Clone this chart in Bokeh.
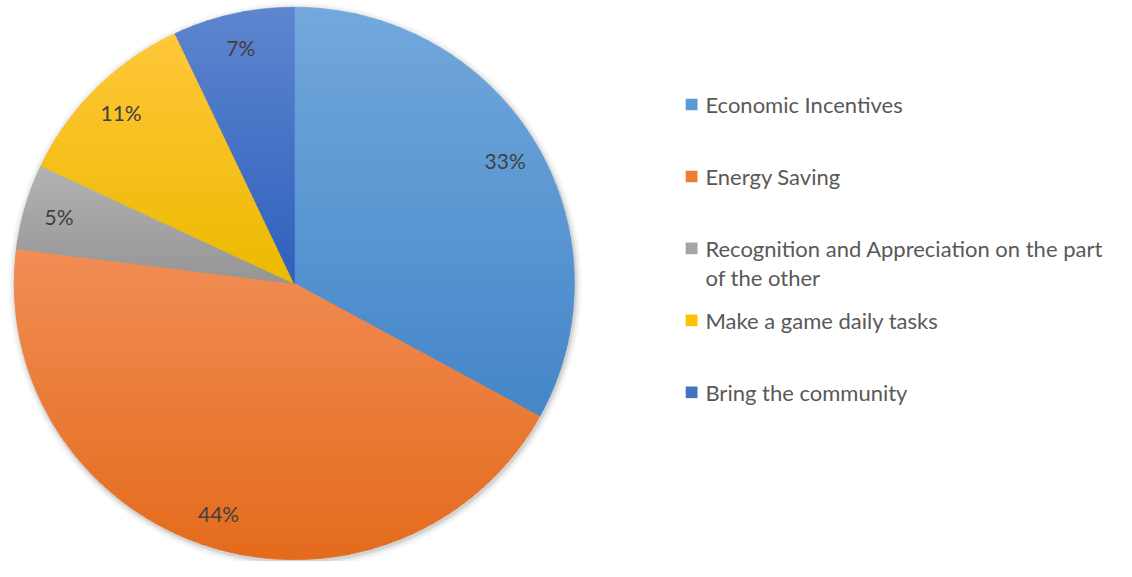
import math
import textwrap
import numpy as np
from bokeh.plotting import figure
from bokeh.models import Range1d, ColumnDataSource
from bokeh.core.properties import value
from bokeh.embed import file_html
from bokeh.resources import INLINE

# ---- data ----
categories = ["Economic Incentives", "Energy Saving",
              "Recognition and Appreciation on the part of the other",
              "Make a game daily tasks", "Bring the community"]
shares = [33, 44, 5, 11, 7]

# ---- style ----
colors = ["#5b9bd5", "#ed7d31", "#a5a5a5", "#ffc000", "#4472c4"]
top_colors = ["#72a8dc", "#f18d55", "#b3b3b3", "#ffc73a", "#5e86cf"]
bot_colors = ["#4486c8", "#e46b1c", "#959595", "#ecba00", "#2f60bd"]

# layout in reference-page pixel units (1132 x 577)
W, H = 1116, 561
CX, CY, R = 298, 291, 284


def sy(Y):
    return 577 - Y


def hex2rgb(h):
    h = h.lstrip("#")
    return np.array([int(h[i:i + 2], 16) for i in (0, 2, 4)], dtype=float)


def rgb2hex(c):
    c = np.clip(np.round(c), 0, 255).astype(int)
    return "#%02x%02x%02x" % tuple(c)


def clip_half(poly, yv, keep_above):
    out = []
    n = len(poly)
    for i in range(n):
        cur = poly[i]
        prv = poly[i - 1]
        cin = cur[1] >= yv if keep_above else cur[1] <= yv
        pin = prv[1] >= yv if keep_above else prv[1] <= yv
        if cin:
            if not pin:
                t = (yv - prv[1]) / (cur[1] - prv[1])
                out.append((prv[0] + t * (cur[0] - prv[0]), yv))
            out.append(cur)
        elif pin:
            t = (yv - prv[1]) / (cur[1] - prv[1])
            out.append((prv[0] + t * (cur[0] - prv[0]), yv))
    return out


p = figure(width=W, height=H, output_backend="svg", toolbar_location=None,
           x_range=Range1d(0, 1132), y_range=Range1d(0, 577), min_border=0)
p.axis.visible = False
p.grid.visible = False
p.outline_line_color = None
p.background_fill_color = "white"
p.border_fill_color = "white"

# soft shadow
for k, a in [(7, 0.025), (5, 0.035), (3, 0.05), (1.5, 0.07)]:
    p.ellipse(x=[CX + 1], y=[sy(CY + 2)], width=2 * (R + k), height=2 * (R + k),
              fill_color="#000000", fill_alpha=a, line_color=None)

total = sum(shares)
lx, ly, labels = [], [], []
xs_all, ys_all, fill_all = [], [], []
acc = 0.0
NSTRIP = 60
for i, s in enumerate(shares):
    a0 = math.pi / 2 - 2 * math.pi * acc / total
    a1 = math.pi / 2 - 2 * math.pi * (acc + s) / total
    mid = (a0 + a1) / 2
    lx.append(CX + 0.875 * R * math.cos(mid))
    ly.append(sy(CY) + 0.875 * R * math.sin(mid))
    labels.append(f"{s}%")
    acc += s
    # sector polygon
    th = np.linspace(a0, a1, 240)
    poly = [(CX, sy(CY))] + [(CX + R * math.cos(t), sy(CY) + R * math.sin(t)) for t in th]
    ymin = min(q[1] for q in poly)
    ymax = max(q[1] for q in poly)
    ct, cb = hex2rgb(top_colors[i]), hex2rgb(bot_colors[i])
    edges = np.linspace(ymin, ymax, NSTRIP + 1)
    for j in range(NSTRIP):
        lo, hi = edges[j], edges[j + 1]
        piece = clip_half(clip_half(poly, lo - 0.3, True), hi + 0.3, False)
        if len(piece) < 3:
            continue
        f = (j + 0.5) / NSTRIP  # 0 = bottom, 1 = top
        c = cb + (ct - cb) * f
        xs_all.append([q[0] for q in piece])
        ys_all.append([q[1] for q in piece])
        fill_all.append(rgb2hex(c))

p.patches(xs="xs", ys="ys", fill_color="c", line_color="c", line_width=0.8,
          source=ColumnDataSource(dict(xs=xs_all, ys=ys_all, c=fill_all)))

p.text(x=lx, y=ly, text=labels, text_align="center", text_baseline="middle",
       text_font=value("Lato"), text_font_size="21px", text_color="#404040")

# legend
rows_y = [107 + 74 * k for k in range(len(categories))]
wrapped = [textwrap.fill(c, 41) for c in categories]
p.rect(x=[701] * len(categories), y=[sy(v) for v in rows_y], width=12, height=12,
       fill_color=colors, line_color=None)
p.text(x=[715] * len(categories), y=[sy(v - 14) for v in rows_y], text=wrapped,
       text_align="left", text_baseline="top", text_line_height=1.08,
       text_font=value("Lato"), text_font_size="22px", text_color="#595959")

open("out.html", "w").write(file_html(p, INLINE))
